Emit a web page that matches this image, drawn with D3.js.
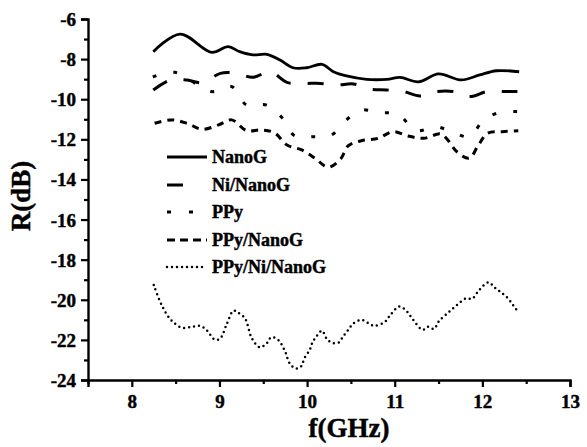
<!DOCTYPE html>
<html>
<head>
<meta charset="utf-8">
<script src="https://cdn.jsdelivr.net/npm/d3@7/dist/d3.min.js"></script>
<style>
  html, body { margin: 0; padding: 0; background: #fff; }
  svg { display: block; }
  svg text { font-family: "Liberation Serif", "DejaVu Serif", "Times New Roman", serif !important; font-weight: bold !important; fill: #000; stroke: #000; stroke-width: 0.45px; }
</style>
</head>
<body>
<svg id="chart" width="587" height="447"></svg>
<script>
// ---- data ----
const seriesNames = ["NanoG", "Ni/NanoG", "PPy", "PPy/NanoG", "PPy/Ni/NanoG"];

const nanoG_f = [8.245, 8.55, 8.91, 9.10, 9.23, 9.38, 9.54, 9.69, 9.84, 9.995, 10.17, 10.30, 10.45, 10.68, 10.91, 11.06, 11.27, 11.50, 11.76, 11.97, 12.16, 12.42];
const nanoG_r = [-7.63, -6.75, -7.66, -7.38, -7.63, -7.79, -7.76, -8.04, -8.43, -8.43, -8.26, -8.63, -8.84, -9.01, -9.01, -8.91, -9.13, -8.74, -9.04, -8.79, -8.58, -8.63];

const niNanoG_f = [8.245, 8.44, 8.63, 8.81, 9.01, 9.20, 9.38, 9.58, 9.77, 9.96, 10.15, 10.34, 10.53, 10.72, 10.91, 11.10, 11.29, 11.48, 11.67, 11.86, 12.05, 12.24, 12.40];
const niNanoG_r = [-9.54, -9.04, -9.04, -9.18, -8.71, -8.71, -8.91, -8.63, -9.16, -9.21, -9.21, -9.29, -9.24, -9.50, -9.54, -9.62, -9.84, -9.62, -9.62, -9.87, -9.62, -9.62, -9.62];

const ppy_f = [8.24, 8.49, 8.91, 9.14, 9.31, 9.54, 9.72, 9.86, 10.07, 10.28, 10.44, 10.60, 10.83, 11.04, 11.24, 11.46, 11.63, 11.85, 12.00, 12.18, 12.41];
const ppy_r = [-8.89, -8.66, -9.62, -9.37, -10.29, -10.29, -10.95, -11.83, -11.87, -11.78, -11.07, -10.54, -10.67, -10.75, -11.57, -11.37, -11.57, -11.87, -11.12, -10.67, -10.62];

const ppyNanoG_f = [8.26, 8.45, 8.63, 8.80, 8.99, 9.14, 9.31, 9.48, 9.63, 9.77, 9.94, 10.09, 10.24, 10.38, 10.47, 10.62, 10.81, 10.98, 11.15, 11.33, 11.52, 11.59, 11.71, 11.85, 11.95, 12.06, 12.23, 12.41];
const ppyNanoG_r = [-11.20, -11.03, -11.20, -11.50, -11.28, -11.03, -11.57, -11.53, -11.68, -12.28, -12.53, -12.94, -13.39, -12.99, -12.32, -12.07, -11.95, -11.62, -11.83, -11.95, -11.73, -11.95, -12.62, -12.94, -12.33, -11.70, -11.62, -11.57];

const ppyNiNanoG_f = [8.25, 8.34, 8.44, 8.57, 8.70, 8.78, 8.85, 8.95, 9.01, 9.08, 9.16, 9.21, 9.29, 9.37, 9.46, 9.54, 9.59, 9.67, 9.75, 9.80, 9.87, 9.93, 9.97, 10.03, 10.06, 10.11, 10.17, 10.22, 10.28, 10.36, 10.41, 10.47, 10.53, 10.62, 10.70, 10.77, 10.89, 10.95, 11.05, 11.13, 11.21, 11.32, 11.38, 11.45, 11.50, 11.61, 11.71, 11.82, 11.88, 11.96, 12.07, 12.14, 12.21, 12.29, 12.35, 12.40];
const ppyNiNanoG_r = [-19.26, -20.26, -20.97, -21.39, -21.34, -21.30, -21.50, -22.00, -21.92, -21.25, -20.54, -20.64, -20.92, -21.92, -22.37, -22.17, -21.87, -22.00, -22.59, -23.16, -23.43, -23.33, -22.91, -22.50, -22.14, -21.80, -21.54, -21.92, -22.14, -22.14, -21.84, -21.50, -21.17, -21.00, -21.17, -21.30, -21.09, -20.76, -20.34, -20.54, -21.00, -21.50, -21.34, -21.45, -21.09, -20.64, -20.26, -19.92, -19.96, -19.54, -19.13, -19.39, -19.62, -19.92, -20.26, -20.56];

const xTicks = [8, 9, 10, 11, 12, 13];
const yTicks = [-24, -22, -20, -18, -16, -14, -12, -10, -8, -6];

// ---- layout ----
const FONT = "'Liberation Serif', 'DejaVu Serif', serif";
const svg = d3.select("#chart");
const x = d3.scaleLinear().domain([7.5, 13]).range([88, 570]);
const y = d3.scaleLinear().domain([-24, -6]).range([380, 19]);

const styles = [
  { dash: null, width: 2.8, cap: "butt", legendDash: null },
  { dash: "16,17", width: 3, cap: "butt", legendDash: "16,40" },
  { dash: "4,17", width: 3, cap: "butt", legendDash: "4,18" },
  { dash: "7,6", width: 3, cap: "butt", legendDash: "8,5" },
  { dash: "0,5", width: 2.5, cap: "round", legendDash: "0,5" }
];

const data = [
  d3.zip(nanoG_f, nanoG_r),
  d3.zip(niNanoG_f, niNanoG_r),
  d3.zip(ppy_f, ppy_r),
  d3.zip(ppyNanoG_f, ppyNanoG_r),
  d3.zip(ppyNiNanoG_f, ppyNiNanoG_r)
];

const line = d3.line().x(d => x(d[0])).y(d => y(d[1])).curve(d3.curveCatmullRom.alpha(0.5));

data.forEach((pts, i) => {
  const s = styles[i];
  svg.append("path")
    .attr("d", line(pts))
    .attr("fill", "none")
    .attr("stroke", "#000")
    .attr("stroke-width", s.width)
    .attr("stroke-linecap", s.cap)
    .attr("stroke-linejoin", "round")
    .attr("stroke-dasharray", s.dash);
});

// ---- axes ----
const xAxis = d3.axisBottom(x).tickValues(xTicks).tickSize(7).tickFormat(d3.format("d"));
const yAxis = d3.axisLeft(y).tickValues(yTicks).tickSize(7).tickFormat(d => d);

const gx = svg.append("g").attr("transform", "translate(0,380)").call(xAxis);
const gy = svg.append("g").attr("transform", "translate(88,0)").call(yAxis);
gx.attr("font-family", FONT);
gy.attr("font-family", FONT);

// minor ticks
const xMinor = [7.5, 8.5, 9.5, 10.5, 11.5, 12.5];
const yMinor = [-23, -21, -19, -17, -15, -13, -11, -9, -7];
svg.append("g").attr("transform", "translate(0,380)").call(
  d3.axisBottom(x).tickValues(xMinor).tickSize(4).tickFormat("")
).select(".domain").remove();
svg.append("g").attr("transform", "translate(88,0)").call(
  d3.axisLeft(y).tickValues(yMinor).tickSize(4).tickFormat("")
).select(".domain").remove();

svg.selectAll(".domain").attr("stroke", "#000").attr("stroke-width", 2.4);
svg.selectAll(".tick line").attr("stroke", "#000").attr("stroke-width", 2.2);

gx.selectAll(".tick text").attr("font-size", 19).attr("dy", "1.05em").attr("y", 8)
  .attr("font-family", FONT).attr("font-weight", "bold");
gy.selectAll(".tick text").attr("font-size", 19).attr("x", -12).attr("dy", "0.34em")
  .attr("font-family", FONT).attr("font-weight", "bold");

// ---- axis titles ----
svg.append("text").attr("x", 349).attr("y", 437).attr("text-anchor", "middle")
  .attr("font-family", FONT).attr("font-weight", "bold")
  .attr("font-size", 27).text("f(GHz)");
svg.append("text").attr("transform", "translate(30,196) rotate(-90)").attr("text-anchor", "middle")
  .attr("font-family", FONT).attr("font-weight", "bold")
  .attr("font-size", 27).text("R(dB)");

// ---- legend ----
const legY = [157, 185, 212, 240, 267];
seriesNames.forEach((name, i) => {
  const s = styles[i];
  svg.append("line")
    .attr("x1", 167).attr("x2", 207).attr("y1", legY[i]).attr("y2", legY[i])
    .attr("stroke", "#000").attr("stroke-width", s.width)
    .attr("stroke-linecap", s.cap)
    .attr("stroke-dasharray", s.legendDash);
  svg.append("text").attr("x", 212).attr("y", legY[i]).attr("dy", "0.35em")
    .attr("font-family", FONT).attr("font-weight", "bold")
    .attr("font-size", 18).text(name);
});
</script>
</body>
</html>
